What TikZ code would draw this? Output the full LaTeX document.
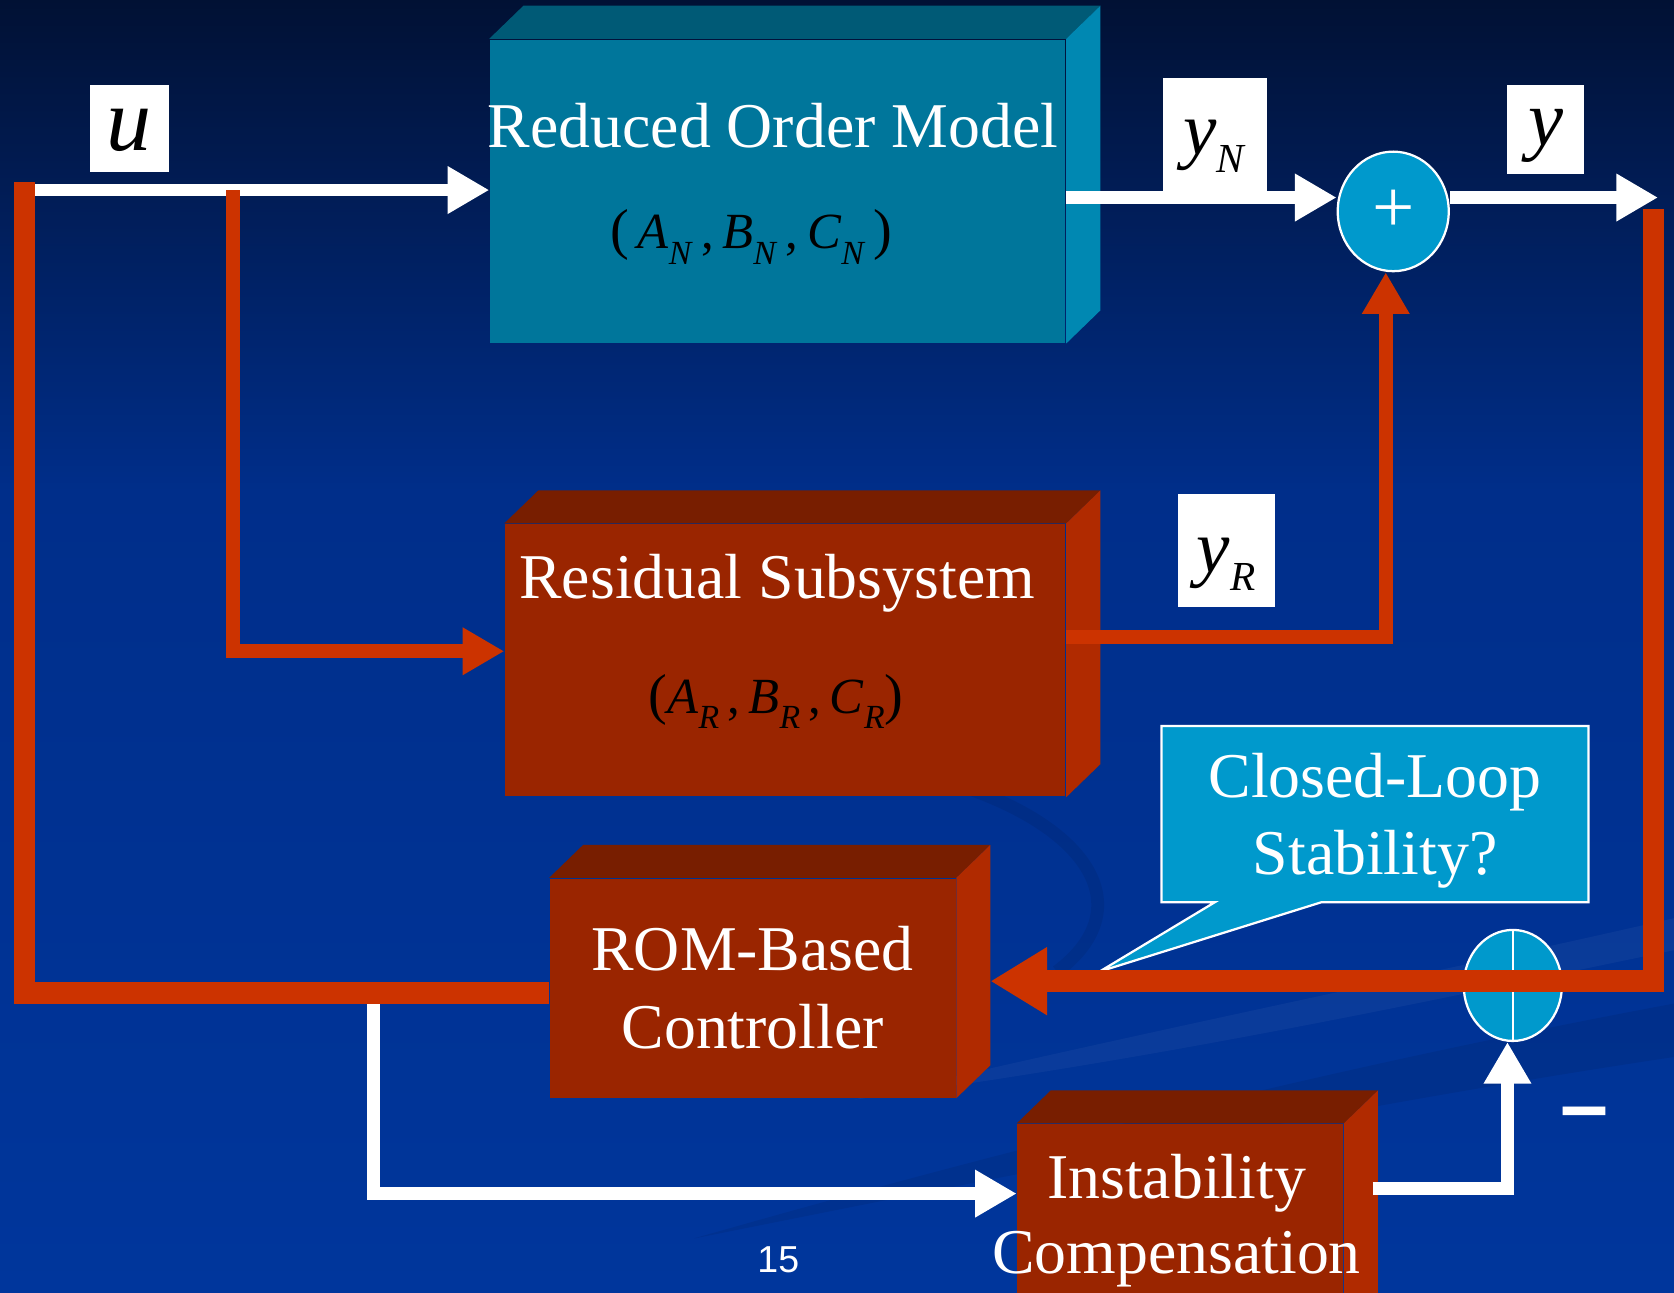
\documentclass[tikz,border=0pt]{standalone}
\usepackage{fontspec}
\setmainfont{Liberation Serif}
\newfontfamily\sansfont{Liberation Sans}
\usepackage{tikz}
\usetikzlibrary{arrows.meta}
\usetikzlibrary{calc}
\usetikzlibrary{shapes.geometric}
\usetikzlibrary{shapes.callouts}

\definecolor{bgtop}{RGB}{1,17,52}
\definecolor{bgmid}{RGB}{0,46,138}
\definecolor{bgbot}{RGB}{0,54,156}
\definecolor{romfront}{RGB}{0,118,155}
\definecolor{romtop}{RGB}{0,90,118}
\definecolor{romside}{RGB}{0,136,178}
\definecolor{resfront}{RGB}{154,37,0}
\definecolor{restop}{RGB}{120,30,0}
\definecolor{resside}{RGB}{176,42,0}
\definecolor{wirered}{RGB}{204,51,0}
\definecolor{sumcyan}{RGB}{0,153,204}

% top and right faces of a block
\newcommand{\slabfaces}[3]{%
  \fill[#2] (#1.north west) -- ++(0.32,0.31) -- ($(#1.north east)+(0.32,0.31)$) -- (#1.north east) -- cycle;
  \fill[#3] (#1.north east) -- ++(0.32,0.31) -- ($(#1.south east)+(0.32,0.31)$) -- (#1.south east) -- cycle;}
\newcommand{\sysmat}[2]{\textit{#1}\raisebox{-0.3em}{\fontsize{9}{9}\selectfont\textit{#2}}}
\newcommand{\bigparen}[1]{{\fontsize{15}{15}\selectfont#1}}

\begin{document}
\begin{tikzpicture}[whitewire/.style={draw=white, line width=0.12cm},
		redwire/.style={draw=wirered, line width=0.13cm},
		redbus/.style={draw=wirered, line width=0.2cm},
		>={Triangle[length=0.39cm,width=0.42cm]}]
	\useasboundingbox (0,0) rectangle (15.68,-12.11);
	\clip (0,0) rectangle (15.68,-12.11);
	\shade[top color=bgtop, bottom color=bgmid] (0,0) rectangle (15.68,-4.6);
	\shade[top color=bgmid, bottom color=bgbot] (0,-4.6) rectangle (15.68,-12.11);
	\fill[black, opacity=0.07] (6.5,-11.6) .. controls (10,-10.6) and (13,-9.9) .. (15.68,-9.4)
		-- (15.68,-9.9) .. controls (13,-10.3) and (10,-10.9) .. (6.5,-11.6) -- cycle;
	\fill[white, opacity=0.04] (8.0,-10.3) .. controls (11,-9.6) and (13.5,-9.1) .. (15.68,-8.6)
		-- (15.68,-8.9) .. controls (13.5,-9.35) and (11,-9.9) .. (8.0,-10.3) -- cycle;
	\draw[black, opacity=0.07, line width=0.12cm] (8.8,-7.3) .. controls (10.2,-7.7) and (10.7,-8.5) .. (9.9,-9.1);

	\begin{scope}[every node/.style={rectangle, inner sep=0pt, text=white,
			font=\fontsize{17}{20.8}\selectfont, align=center}]
		\node[fill=romfront, minimum width=5.39cm, minimum height=2.84cm] (rom) at (7.285,-1.79) {};
		\node[fill=resfront, minimum width=5.25cm, minimum height=2.55cm] (res) at (7.355,-6.185) {};
		\node[fill=resfront, minimum width=3.80cm, minimum height=2.05cm] (ctrl) at (7.05,-9.255) {ROM-Based\\Controller};
		\node[fill=resfront, minimum width=3.05cm, minimum height=2.07cm] (comp) at (11.055,-11.565) {};
	\end{scope}
	\slabfaces{rom}{romtop}{romside}
	\slabfaces{res}{restop}{resside}
	\slabfaces{ctrl}{restop}{resside}
	\slabfaces{comp}{restop}{resside}

	\begin{scope}[every node/.style={text=white, inner sep=0pt,
			font=\fontsize{17}{20}\selectfont, align=center}]
		\node (romtxt) at (7.24,-1.18) {Reduced Order Model};
		\node (restxt) at (7.28,-5.46) {Residual Subsystem};
		\node (comptxt) at (11.02,-11.43) {Instability\\Compensation};
	\end{scope}
	\begin{scope}[every node/.style={text=black, inner sep=0pt, font=\fontsize{13.5}{15}\selectfont}]
		\node (romsys) at (7.04,-2.22) {\bigparen{(}\,\sysmat{A}{N}\,,\,\sysmat{B}{N}\,,\,\sysmat{C}{N}\,\bigparen{)}};
		\node (ressys) at (7.27,-6.57) {\bigparen{(}\sysmat{A}{R}\,,\,\sysmat{B}{R}\,,\,\sysmat{C}{R}\bigparen{)}};
	\end{scope}

	\node[ellipse, fill=sumcyan, draw=white, line width=0.6pt, minimum width=1.04cm,
		minimum height=1.12cm, inner sep=0pt, text=white, text height=0.39cm, text depth=0pt,
		font=\fontsize{20}{20}\selectfont] (sum1) at (13.05,-1.98) {+};
	\node[ellipse, fill=sumcyan, draw=white, line width=0.6pt, minimum width=0.92cm,
		minimum height=1.04cm, inner sep=0pt] (sum2) at (14.17,-9.23) {};
	\draw[white, line width=0.6pt] (sum2.north) -- (sum2.south);

	\coordinate (calltip) at (10.30,-9.10);
	\node[rectangle callout, callout absolute pointer={(calltip)}, callout pointer width=1cm,
		fill=sumcyan, draw=white, line width=0.6pt, minimum width=4.0cm, minimum height=1.65cm,
		inner sep=0pt, text depth=0pt, text=white, font=\fontsize{17}{20.5}\selectfont, align=center] (ask) at (12.88,-7.625) {Closed-Loop\\Stability?};

	\coordinate (ustart) at (0.23,-1.78);
	\coordinate (utap) at (2.18,-1.78);
	\coordinate (rtap) at (2.18,-6.10);
	\coordinate (ynout) at ($(rom.east)+(0,-0.06)$);
	\coordinate (yend) at (15.53,-1.85);
	\coordinate (yrbend) at (12.98,-5.97);
	\coordinate (fbtop) at (15.49,-1.96);
	\coordinate (fbcorner) at (15.49,-9.19);
	\coordinate (ctrlside) at ($(ctrl.east)+(0.32,0)$);
	\coordinate (lftcorner) at (0.23,-9.30);
	\coordinate (lfttop) at (0.23,-1.70);
	\coordinate (ctap) at (3.50,-9.35);
	\coordinate (cbend) at (3.50,-11.18);
	\coordinate (compside) at ($(comp.east)+(0.27,0)$);
	\coordinate (sbend) at (14.12,-11.13);

	\draw[whitewire,->] (ustart) -- (ustart -| rom.west);
	\draw[whitewire,->] (ynout) -- (ynout -| sum1.west);
	\draw[whitewire,->] (yend -| sum1.east) -- (yend);
	\draw[whitewire,->] (ctap) -- (cbend) -- (cbend -| comp.west);
	\draw[whitewire,->] (sbend -| compside) -- (sbend) -- (sbend |- sum2.south);
	\draw[redwire,->] (utap) -- (rtap) -- (rtap -| res.west);
	\draw[redwire,->] (yrbend -| res.east) -- (yrbend) -- (yrbend |- sum1.south);
	\draw[redbus,-{Triangle[length=0.53cm,width=0.6cm]}] (fbtop) -- (fbcorner) -- (fbcorner -| ctrlside);
	\draw[redbus] (lftcorner -| ctrl.west) -- (lftcorner) -- (lfttop);

	\begin{scope}[every node/.style={fill=white, text=black, inner sep=0pt}]
		\node[minimum width=0.74cm, minimum height=0.81cm, text height=0.40cm, text depth=0pt,
			font=\fontsize{24}{24}\selectfont] (ulab) at (1.21,-1.205) {\textit{u}};
		\node[minimum width=0.98cm, minimum height=1.07cm, text height=0.37cm, text depth=0pt,
			font=\fontsize{20}{20}\selectfont] (ynlab) at (11.38,-1.265) {\textit{y}\raisebox{-0.24em}{\fontsize{11}{11}\selectfont\textit{N}}};
		\node[minimum width=0.72cm, minimum height=0.83cm, text height=0.45cm, text depth=0.15cm,
			font=\fontsize{21}{21}\selectfont] (ylab) at (14.48,-1.215) {\textit{y}};
		\node[minimum width=0.91cm, minimum height=1.06cm, text height=0.40cm, text depth=0pt,
			font=\fontsize{20}{20}\selectfont] (yrlab) at (11.485,-5.16) {\textit{y}\raisebox{-0.24em}{\fontsize{11}{11}\selectfont\textit{R}}};
	\end{scope}
	\node[text=white, inner sep=0pt, font=\sansfont\bfseries\fontsize{23}{23}\selectfont] (minus) at (14.84,-10.50) {\textendash};
	\node[text=white, inner sep=0pt, font=\sansfont\fontsize{10}{10}\selectfont] (pgnum) at (7.29,-11.80) {15};
\end{tikzpicture}
\end{document}
